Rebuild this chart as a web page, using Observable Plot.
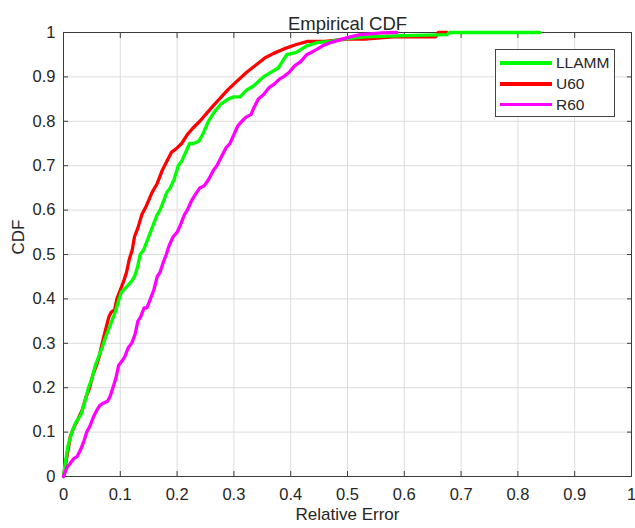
<!DOCTYPE html>
<html>
<head>
<meta charset="utf-8">
<script src="https://cdn.jsdelivr.net/npm/d3@7"></script>
<script src="https://cdn.jsdelivr.net/npm/@observablehq/plot@0.6"></script>
<style>
  html, body { margin: 0; padding: 0; background: #fff; }
  #wrap { position: relative; width: 635px; height: 528px; font-family: "Liberation Sans", Arial, sans-serif; }
  #legend { position: absolute; left: 495px; top: 49px; width: 118px; height: 66px; border: 1px solid #444; background: #fff; }
  .row { position: absolute; left: 0; height: 20px; display: flex; align-items: center; }
  .swatch { margin-left: 4px; width: 52px; height: 3.5px; }
  .lab { margin-left: 4px; font-size: 15.5px; color: #262626; }
</style>
</head>
<body>
<div id="wrap"><div id="chart"></div><div id="legend"></div></div>
<script>
// ---- data ----
const seriesNames = ["LLAMM", "U60", "R60"];
const seriesColors = ["#00ff00", "#ff0000", "#ff00ff"];
const tickValues = [0, 0.1, 0.2, 0.3, 0.4, 0.5, 0.6, 0.7, 0.8, 0.9, 1];
const tickLabels = ["0", "0.1", "0.2", "0.3", "0.4", "0.5", "0.6", "0.7", "0.8", "0.9", "1"];

const llammX = [0,0.003,0.008,0.015,0.021,0.026,0.031,0.038,0.044,0.05,0.056,0.062,0.068,0.073,0.079,0.085,0.091,0.098,0.102,0.106,0.113,0.12,0.125,0.13,0.135,0.141,0.147,0.153,0.159,0.165,0.17,0.176,0.182,0.188,0.195,0.202,0.208,0.215,0.222,0.229,0.238,0.245,0.255,0.265,0.278,0.29,0.3,0.311,0.322,0.335,0.352,0.365,0.378,0.393,0.41,0.428,0.446,0.47,0.492,0.53,0.6,0.675,0.68,0.839];
const llammY = [0,0.03,0.07,0.1,0.12,0.13,0.14,0.17,0.2,0.22,0.25,0.27,0.29,0.31,0.33,0.35,0.37,0.4,0.415,0.42,0.43,0.44,0.45,0.47,0.5,0.51,0.53,0.55,0.57,0.59,0.6,0.62,0.64,0.65,0.67,0.7,0.71,0.73,0.75,0.75,0.755,0.77,0.8,0.82,0.84,0.85,0.855,0.855,0.87,0.88,0.9,0.91,0.92,0.95,0.955,0.97,0.977,0.98,0.985,0.99,0.993,0.995,1,1];

const u60X = [0,0.004,0.008,0.012,0.018,0.026,0.033,0.04,0.046,0.052,0.058,0.063,0.068,0.074,0.08,0.084,0.09,0.094,0.1,0.106,0.111,0.116,0.121,0.125,0.131,0.138,0.146,0.156,0.165,0.174,0.182,0.19,0.2,0.208,0.218,0.228,0.24,0.252,0.265,0.278,0.29,0.305,0.322,0.34,0.355,0.37,0.388,0.41,0.43,0.46,0.5,0.53,0.58,0.655,0.66,0.675];
const u60Y = [0,0.03,0.06,0.09,0.11,0.13,0.15,0.18,0.2,0.23,0.25,0.27,0.3,0.33,0.36,0.37,0.375,0.4,0.42,0.44,0.46,0.49,0.51,0.54,0.56,0.59,0.61,0.64,0.66,0.69,0.71,0.73,0.74,0.75,0.77,0.785,0.8,0.818,0.837,0.855,0.872,0.89,0.91,0.928,0.943,0.953,0.963,0.973,0.98,0.98,0.985,0.985,0.99,0.99,1,1];

const r60X = [0,0.003,0.006,0.012,0.018,0.024,0.03,0.036,0.041,0.047,0.053,0.059,0.064,0.07,0.078,0.082,0.087,0.092,0.097,0.103,0.108,0.114,0.12,0.126,0.131,0.136,0.142,0.147,0.153,0.159,0.165,0.17,0.175,0.181,0.186,0.193,0.2,0.207,0.213,0.218,0.225,0.232,0.24,0.248,0.256,0.264,0.27,0.278,0.286,0.293,0.3,0.307,0.314,0.322,0.33,0.335,0.343,0.352,0.362,0.372,0.38,0.387,0.397,0.407,0.418,0.428,0.436,0.446,0.456,0.467,0.478,0.49,0.505,0.522,0.54,0.56,0.587];
const r60Y = [0,0.01,0.02,0.03,0.04,0.045,0.06,0.08,0.1,0.115,0.135,0.15,0.16,0.165,0.17,0.18,0.2,0.22,0.25,0.26,0.27,0.29,0.3,0.32,0.35,0.36,0.38,0.38,0.4,0.42,0.45,0.46,0.48,0.5,0.52,0.54,0.55,0.57,0.59,0.6,0.62,0.635,0.65,0.655,0.67,0.69,0.7,0.72,0.74,0.75,0.77,0.79,0.8,0.81,0.815,0.83,0.85,0.86,0.876,0.885,0.895,0.9,0.91,0.925,0.935,0.95,0.955,0.962,0.97,0.976,0.98,0.985,0.99,0.995,0.997,0.999,1];

// ---- build table ----
const toRows = (name, xs, ys) => xs.map((x, i) => ({series: name, x, y: ys[i]}));
const rows = {
  LLAMM: toRows("LLAMM", llammX, llammY),
  U60: toRows("U60", u60X, u60Y),
  R60: toRows("R60", r60X, r60Y)
};
const colorOf = Object.fromEntries(seriesNames.map((n, i) => [n, seriesColors[i]]));
const fmt = d => tickLabels[tickValues.findIndex(t => Math.abs(t - d) < 1e-9)];
const axisColor = "#3c3c3c";
const textColor = "#262626";
const lineW = 3.3;

const chart = Plot.plot({
  width: 635,
  height: 528,
  marginLeft: 63,
  marginRight: 4,
  marginTop: 32,
  marginBottom: 52,
  style: {fontFamily: "'Liberation Sans', Arial, sans-serif", fontSize: "16.5px", background: "#fff", color: textColor},
  x: {domain: [0, 1]},
  y: {domain: [0, 1]},
  marks: [
    Plot.gridX(tickValues, {stroke: "#dcdcdc", strokeOpacity: 1}),
    Plot.gridY(tickValues, {stroke: "#dcdcdc", strokeOpacity: 1}),
    Plot.frame({stroke: axisColor}),
    // inward tick marks on all four sides
    Plot.axisX(tickValues, {anchor: "bottom", tickSize: 5, dy: -5, text: null, label: null, stroke: axisColor}),
    Plot.axisX(tickValues, {anchor: "top", tickSize: 5, dy: 5, text: null, label: null, stroke: axisColor}),
    Plot.axisY(tickValues, {anchor: "left", tickSize: 5, dx: 5, text: null, label: null, stroke: axisColor}),
    Plot.axisY(tickValues, {anchor: "right", tickSize: 5, dx: -5, text: null, label: null, stroke: axisColor}),
    // data lines
    Plot.line(rows.U60, {x: "x", y: "y", stroke: colorOf.U60, strokeWidth: lineW}),
    Plot.line(rows.LLAMM, {x: "x", y: "y", stroke: colorOf.LLAMM, strokeWidth: lineW}),
    Plot.line(rows.R60, {x: "x", y: "y", stroke: colorOf.R60, strokeWidth: lineW}),
    // tick labels
    Plot.axisX(tickValues, {anchor: "bottom", tickSize: 0, tickPadding: 12, tickFormat: fmt, label: null, fill: textColor}),
    Plot.axisY(tickValues, {anchor: "left", tickSize: 0, tickPadding: 8, tickFormat: fmt, label: null, fill: textColor}),
    // titles
    Plot.text(["Empirical CDF"], {frameAnchor: "top", dy: -16, fontSize: 18.5, fill: textColor}),
    Plot.text(["Relative Error"], {frameAnchor: "bottom", dy: 43, fontSize: 17, fill: textColor}),
    Plot.text(["CDF"], {frameAnchor: "left", dx: -45, rotate: -90, fontSize: 17, fill: textColor})
  ]
});
document.getElementById("chart").appendChild(chart);

// legend
const legend = document.getElementById("legend");
seriesNames.forEach((name, i) => {
  const row = document.createElement("div");
  row.className = "row";
  row.style.top = (3 + i * 20.8) + "px";
  const sw = document.createElement("div");
  sw.className = "swatch";
  sw.style.background = seriesColors[i];
  const lab = document.createElement("span");
  lab.className = "lab";
  lab.textContent = name;
  row.appendChild(sw);
  row.appendChild(lab);
  legend.appendChild(row);
});
</script>
</body>
</html>
